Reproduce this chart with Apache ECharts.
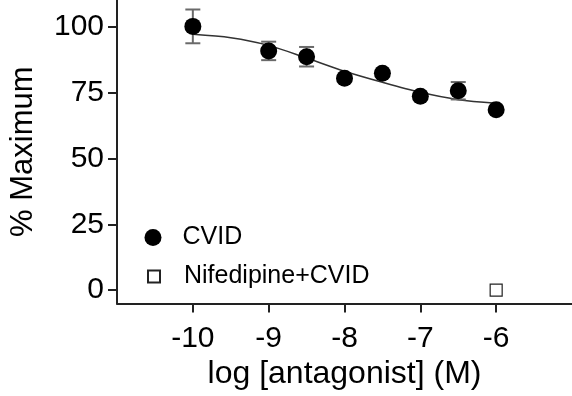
<!DOCTYPE html>
<html>
<head>
<meta charset="utf-8">
<script src="https://cdn.jsdelivr.net/npm/echarts@6/dist/echarts.min.js"></script>
<style>
  html, body { margin: 0; padding: 0; background: #fff; }
  #chart { width: 572px; height: 396px; }
</style>
</head>
<body>
<div id="chart"></div>
<script>
// Concentration–response data (log molar concentration of antagonist)
const logDose  = [-10, -9, -8.5, -8, -7.5, -7, -6.5, -6];
const cvidMean = [100, 90.7, 88.5, 80.3, 82.2, 73.5, 75.6, 68.4];
const cvidSem  = [6.4, 3.5, 3.7, null, null, null, 3.3, null];

// Fitted sigmoid curve, sampled at half-log steps
const fitDose  = [-10, -9.5, -9, -8.5, -8, -7.5, -7, -6.5, -6];
const fitValue = [97.0, 95.7, 92.8, 88.0, 83.0, 78.8, 75.0, 72.2, 70.9];

// Nifedipine pre-treated group
const nifDose  = [-6];
const nifValue = [0];

const xTicks = [-10, -9, -8, -7, -6];
const yTicks = [0, 25, 50, 75, 100];

const FONT = "'Liberation Sans', Arial, Helvetica, sans-serif";
const AXIS_COLOR = '#222';

const errData = [];
logDose.forEach((d, i) => {
  if (cvidSem[i] != null) errData.push([d, cvidMean[i] - cvidSem[i], cvidMean[i] + cvidSem[i]]);
});

const chart = echarts.init(document.getElementById('chart'), null, { renderer: 'canvas' });

chart.setOption({
  animation: false,
  backgroundColor: '#fff',
  textStyle: { fontFamily: FONT },
  grid: { left: 115, top: -3, width: 461, height: 306.4, containLabel: false },
  legend: [
    {
      data: ['CVID'], left: 144.5, top: 225, padding: 0,
      itemWidth: 17, itemHeight: 17, icon: 'circle',
      textStyle: { fontSize: 25, color: '#000', fontFamily: FONT, padding: [0, 0, 0, 16] }
    },
    {
      data: ['Nifedipine+CVID'], left: 147, top: 264, padding: 0,
      itemWidth: 12, itemHeight: 12, icon: 'rect',
      textStyle: { fontSize: 25, color: '#000', fontFamily: FONT, padding: [0, 0, 0, 19] }
    }
  ],
  xAxis: {
    type: 'value', min: -11, max: -5,
    axisLine: { show: true, onZero: false, lineStyle: { color: AXIS_COLOR, width: 2 } },
    axisTick: { show: true, customValues: xTicks, length: 9, lineStyle: { color: AXIS_COLOR, width: 2 } },
    axisLabel: { customValues: xTicks, fontSize: 30, color: '#000', margin: 20, fontFamily: FONT },
    splitLine: { show: false },
    name: 'log [antagonist] (M)', nameLocation: 'middle', nameGap: 49,
    nameTextStyle: { fontSize: 32, color: '#000', fontFamily: FONT }
  },
  yAxis: {
    type: 'value', min: -5, max: 110,
    axisLine: { show: true, onZero: false, lineStyle: { color: AXIS_COLOR, width: 2 } },
    axisTick: { show: true, customValues: yTicks, length: 9, lineStyle: { color: AXIS_COLOR, width: 2 } },
    axisLabel: { customValues: yTicks, fontSize: 30, color: '#000', margin: 13, fontFamily: FONT },
    splitLine: { show: false },
    name: '% Maximum', nameLocation: 'middle', nameGap: 78, nameRotate: 90,
    nameTextStyle: { fontSize: 31, color: '#000', fontFamily: FONT }
  },
  series: [
    {
      name: 'fit', type: 'line', smooth: 0.3, showSymbol: false, silent: true,
      data: fitDose.map((d, i) => [d, fitValue[i]]),
      lineStyle: { color: '#333', width: 1.5 }, z: 2
    },
    {
      name: 'sem', type: 'custom', silent: true, z: 3,
      data: errData,
      renderItem: (params, api) => {
        const x = api.value(0);
        const top = api.coord([x, api.value(2)]);
        const bot = api.coord([x, api.value(1)]);
        const hw = 7.5;
        const st = { stroke: '#6a6a6a', lineWidth: 2 };
        return {
          type: 'group',
          children: [
            { type: 'line', shape: { x1: top[0], y1: top[1], x2: bot[0], y2: bot[1] }, style: st },
            { type: 'line', shape: { x1: top[0] - hw, y1: top[1], x2: top[0] + hw, y2: top[1] }, style: st },
            { type: 'line', shape: { x1: bot[0] - hw, y1: bot[1], x2: bot[0] + hw, y2: bot[1] }, style: st }
          ]
        };
      }
    },
    {
      name: 'CVID', type: 'scatter', symbol: 'circle', symbolSize: 17, z: 4,
      data: logDose.map((d, i) => [d, cvidMean[i]]),
      itemStyle: { color: '#000', opacity: 1 }
    },
    {
      name: 'Nifedipine+CVID', type: 'scatter', symbol: 'rect', symbolSize: 12, z: 4,
      data: nifDose.map((d, i) => [d, nifValue[i]]),
      itemStyle: { color: '#fff', borderColor: '#222', borderWidth: 1.2, opacity: 1 }
    }
  ]
});
</script>
</body>
</html>
